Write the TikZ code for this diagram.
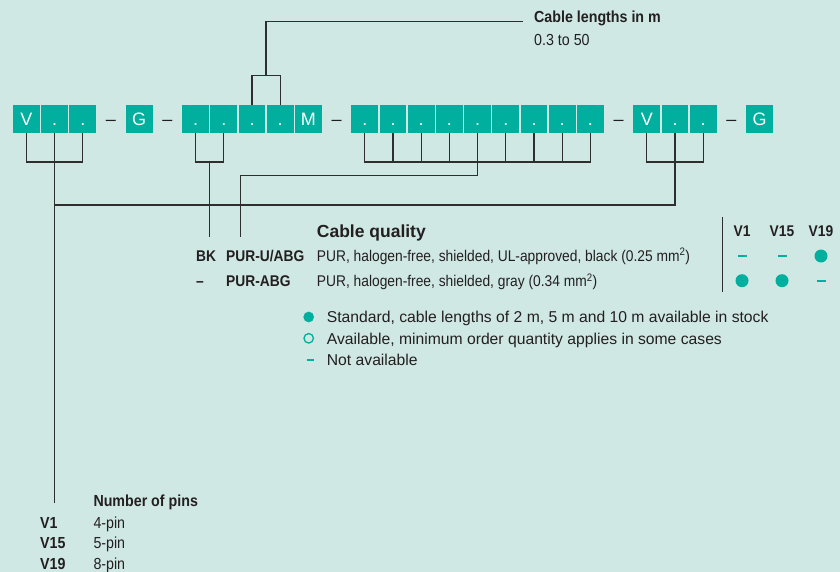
\documentclass[tikz,border=0pt]{standalone}
\usepackage{fontspec}
\setmainfont{Liberation Sans}
\newfontfamily\narrowfont{Liberation Sans}[FakeStretch=0.89, Ligatures=TeX]
\usetikzlibrary{positioning,calc}

\definecolor{bgteal}{HTML}{CFE8E4}
\definecolor{boxteal}{HTML}{00AF9D}
\definecolor{ink}{HTML}{231F20}
\definecolor{wirecol}{HTML}{2E2E2E}

\begin{document}
\begin{tikzpicture}[
    x=1pt, y=-1pt,
    node distance=1pt,
    cell/.style={
        rectangle,
        fill=boxteal,
        minimum width=26.8pt,
        minimum height=28pt,
        inner sep=0pt,
        text height=13pt,
        text depth=0pt,
        text=white,
        font=\fontsize{18}{20}\selectfont
    },
    gap/.style={cell, fill=none, text=ink},
    wire/.style={draw=wirecol, line width=1.3pt},
    head/.style={font=\bfseries\fontsize{17.5}{20}\selectfont, text=ink, anchor=base west, inner sep=0pt},
    code/.style={font=\narrowfont\bfseries\fontsize{15.5}{18}\selectfont, text=ink, anchor=base west, inner sep=0pt},
    desc/.style={font=\narrowfont\fontsize{15.5}{18}\selectfont, text=ink, anchor=base west, inner sep=0pt},
    legend/.style={font=\fontsize{15.7}{18}\selectfont, text=ink, anchor=base west, inner sep=0pt},
    bigdot/.style={circle, fill=boxteal, minimum size=#1, inner sep=0pt},
    bigdot/.default=13pt,
    opendot/.style={circle, draw=boxteal, line width=1.3pt, minimum size=9.5pt, inner sep=0pt},
    nodash/.style={rectangle, fill=boxteal, minimum width=#1, minimum height=2pt, inner sep=0pt},
    nodash/.default=9pt
]

% Background and page size
\fill[bgteal] (0,0) rectangle (840,572);
\useasboundingbox (0,0) rectangle (840,572);

% Order code: one row of cells, left to right
\node[cell] (pinA) at (26.4,119) {V};
\node[cell, right=of pinA] (pinB) {.};
\node[cell, right=of pinB] (pinC) {.};
\node[gap,  right=of pinC] (sepA) {--};
\node[cell, right=of sepA] (gA) {G};
\node[gap,  right=of gA]   (sepB) {--};
\node[cell, right=of sepB] (bkA) {.};
\node[cell, right=of bkA]  (bkB) {.};
\node[cell, right=of bkB]  (lenA) {.};
\node[cell, right=of lenA] (lenB) {.};
\node[cell, right=of lenB] (mtag) {M};
\node[gap,  right=of mtag] (sepC) {--};
\node[cell, right=of sepC] (qual1) {.};
\node[cell, right=of qual1] (qual2) {.};
\node[cell, right=of qual2] (qual3) {.};
\node[cell, right=of qual3] (qual4) {.};
\node[cell, right=of qual4] (qual5) {.};
\node[cell, right=of qual5] (qual6) {.};
\node[cell, right=of qual6] (qual7) {.};
\node[cell, right=of qual7] (qual8) {.};
\node[cell, right=of qual8] (qual9) {.};
\node[gap,  right=of qual9] (sepD) {--};
\node[cell, right=of sepD] (pinD) {V};
\node[cell, right=of pinD] (pinE) {.};
\node[cell, right=of pinE] (pinF) {.};
\node[gap,  right=of pinF] (sepE) {--};
\node[cell, right=of sepE] (gB) {G};

% Cable lengths
\node[code, font=\narrowfont\bfseries\fontsize{16}{18}\selectfont] (lenhead) at (534,23) {Cable lengths in m};
\node[desc, font=\narrowfont\fontsize{16}{18}\selectfont] (lenvals) at (534,45.7) {0.3 to 50};

% Cable quality table
\node[head] (qhead) at (316.7,237) {Cable quality};
\node[code] (bk)       at (196,261.2)   {BK};
\node[code] (purU)     at (226,261.2)   {PUR-U/ABG};
\node[desc] (purUdesc) at (316.7,261.2) {PUR, halogen-free, shielded, UL-approved, black (0.25 mm\textsuperscript{2})};
\node[code] (nobk)     at (196,286.5)   {--};
\node[code] (pur)      at (226,286.5)   {PUR-ABG};
\node[desc] (purdesc)  at (316.7,286.5) {PUR, halogen-free, shielded, gray (0.34 mm\textsuperscript{2})};

% Availability per pin count
\coordinate (ruletop) at (722.7,217.3);
\coordinate (rulebot) at (722.7,292);
\draw[wire] (ruletop) -- (rulebot);
\node[code, anchor=base] (hV1)  at (742,236.5) {V1};
\node[code, anchor=base] (hV15) at (782,236.5) {V15};
\node[code, anchor=base] (hV19) at (821,236.5) {V19};
\node[nodash] (uV1)  at (742,256) {};
\node[nodash] (uV15) at (782,256) {};
\node[bigdot] (uV19) at (821,256) {};
\node[bigdot] (aV1)  at (742,280.7) {};
\node[bigdot] (aV15) at (782,280.7) {};
\node[nodash] (aV19) at (821,280.7) {};

% Legend
\node[bigdot=10.7pt] (keystd) at (308.7,317) {};
\node[opendot]       (keyopt) at (308.7,338.3) {};
\node[nodash=7pt]    (keyno)  at (310,360) {};
\node[legend] (keystdtext) at (326.7,322.6) {Standard, cable lengths of 2 m, 5 m and 10 m available in stock};
\node[legend] (keyopttext) at (326.7,344)   {Available, minimum order quantity applies in some cases};
\node[legend] (keynotext)  at (326.7,365.6) {Not available};

% Number of pins
\node[code, font=\narrowfont\bfseries\fontsize{16}{18}\selectfont] (pinshead) at (93.3,506.8) {Number of pins};
\node[code, font=\narrowfont\bfseries\fontsize{16}{18}\selectfont] (pV1)  at (40,528)   {V1};
\node[code, font=\narrowfont\bfseries\fontsize{16}{18}\selectfont] (pV15) at (40,548.4) {V15};
\node[code, font=\narrowfont\bfseries\fontsize{16}{18}\selectfont] (pV19) at (40,569.7) {V19};
\node[desc, font=\narrowfont\fontsize{16}{18}\selectfont] (pV1text)  at (93.3,528)   {4-pin};
\node[desc, font=\narrowfont\fontsize{16}{18}\selectfont] (pV15text) at (93.3,548.4) {5-pin};
\node[desc, font=\narrowfont\fontsize{16}{18}\selectfont] (pV19text) at (93.3,569.7) {8-pin};

% Bracket levels
\coordinate (toplvl) at (0,75.7);
\coordinate (lvl)    at (0,162);
\coordinate (qualbus) at (0,175.3);
\coordinate (bus)    at (0,205);
\coordinate (qualdrop) at (240.3,0);

% Cable lengths bracket (above)
\draw[wire] (lenA.north) |- (lenB.north |- toplvl) -- (lenB.north);
\coordinate (lenjoin) at ($(lenA.north |- toplvl)!0.5!(lenB.north |- toplvl)$);
\draw[wire] (lenjoin) |- ([shift={(-11,-1.7)}]lenhead.base west);

% Pin brackets
\draw[wire] (pinA.south) |- (pinC.south |- lvl) -- (pinC.south);
\draw[wire] (pinB.south) -- (pinB.south |- pinshead.west);
\draw[wire] (pinD.south) |- (pinF.south |- lvl) -- (pinF.south);
\draw[wire] (pinE.south) |- (pinB.south |- bus);

% BK bracket
\draw[wire] (bkA.south) |- (bkB.south |- lvl) -- (bkB.south);
\coordinate (bkjoin) at ($(bkA.south |- lvl)!0.5!(bkB.south |- lvl)$);
\draw[wire] (bkjoin) -- (bkjoin |- qhead.base);

% Cable quality bracket
\draw[wire] (qual1.south) |- (qual9.south |- lvl) -- (qual9.south);
\draw[wire] (qual2.south) -- (qual2.south |- lvl);
\draw[wire] (qual3.south) -- (qual3.south |- lvl);
\draw[wire] (qual4.south) -- (qual4.south |- lvl);
\draw[wire] (qual6.south) -- (qual6.south |- lvl);
\draw[wire] (qual7.south) -- (qual7.south |- lvl);
\draw[wire] (qual8.south) -- (qual8.south |- lvl);
\draw[wire] (qual5.south) |- (qualdrop |- qualbus) -- (qualdrop |- qhead.base);

\end{tikzpicture}
\end{document}
